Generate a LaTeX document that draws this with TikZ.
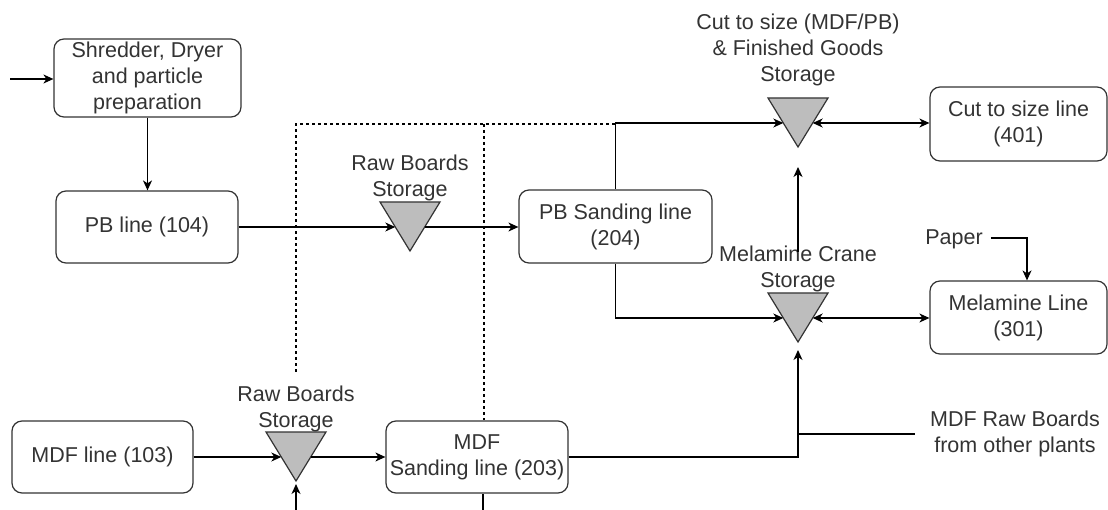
\documentclass[tikz,border=0pt]{standalone}
\usepackage{fontspec}
\setmainfont{Liberation Sans}
\usetikzlibrary{arrows.meta,calc}
\definecolor{ink}{HTML}{333333}
\definecolor{stock}{HTML}{BDBDBD}

\tikzset{
  txt/.style={font=\fontsize{21.5}{26}\selectfont, text=ink, align=center, inner sep=0pt},
  proc/.style={txt, draw=ink, line width=1.2pt, rounded corners=10pt},
  flow/.style={line width=1.2pt, -{Stealth[length=10pt,width=9pt,inset=3pt]}},
  both/.style={line width=1.2pt, {Stealth[length=10pt,width=9pt,inset=3pt]}-{Stealth[length=10pt,width=9pt,inset=3pt]}},
  plain/.style={line width=1.2pt},
  link/.style={line width=1.1pt, dash pattern=on 3pt off 3pt},
  % storage: inverted triangle with side points at its centre line
  store/.pic={
    \draw[draw=ink, fill=stock, line width=1.2pt] (-30,-25) -- (30,-25) -- (0,24) -- cycle;
    \coordinate (-w) at (-14.7,0);
    \coordinate (-e) at (14.7,0);
    \coordinate (-n) at (0,-25);
    \coordinate (-s) at (0,24);
  }
}

\begin{document}
\begin{tikzpicture}[x=1pt,y=-1pt]
\useasboundingbox (0,0) rectangle (1108,510);

% process boxes
\node[proc, minimum width=187pt, minimum height=78pt] (shred) at (147.5,78)
  {Shredder, Dryer\\and particle\\preparation};
\node[proc, minimum width=182pt, minimum height=72pt] (pb) at (147,227) {PB line (104)};
\node[proc, minimum width=193pt, minimum height=73pt] (pbsand) at (615.5,226.5)
  {PB Sanding line\\(204)};
\node[proc, minimum width=181pt, minimum height=72pt] (mdf) at (102.5,457) {MDF line (103)};
\node[proc, minimum width=182pt, minimum height=72pt] (mdfsand) at (477,457)
  {MDF\\Sanding line (203)};
\node[proc, minimum width=177pt, minimum height=74pt] (csl) at (1018.5,124)
  {Cut to size line\\(401)};
\node[proc, minimum width=177pt, minimum height=73pt] (mel) at (1018.5,317.5)
  {Melamine Line\\(301)};

% storages
\pic (cut) at (798,123) {store};
\pic (crane) at (798,318) {store};
\pic (rawpb) at (410,227) {store};
\pic (rawmdf) at (296,457) {store};

% storage labels and free texts
\node[txt] (cutlab) at (798,50) {Cut to size (MDF/PB)\\\& Finished Goods\\Storage};
\node[txt] (cranelab) at (798,269) {Melamine Crane\\Storage};
\node[txt] (rawpblab) at (410,178) {Raw Boards\\Storage};
\node[txt] (rawmdflab) at (296,409) {Raw Boards\\Storage};
\node[txt] (paper) at (954,239) {Paper};
\node[txt] (other) at (1015,434) {MDF Raw Boards\\from other plants};

% free ends
\coordinate (feed) at (10,79);
\coordinate (melrise) at (798,252);
\coordinate (mdfturn) at (798,457);
\coordinate (dashfoot) at (296,372);
\coordinate (dashtop) at (296,124);
\coordinate (dashsplit) at (484,124);
\coordinate (dashend) at (615,124);
\coordinate (below1) at (296,510);
\coordinate (below2) at (483,510);
\coordinate (paperturn) at (1027,238);

% particle board flow
\draw[flow] (feed) -- (shred.west |- feed);
\draw[flow] (shred.south) -- (shred.south |- pb.north);
\draw[flow] (pb.east |- rawpb-w) -- (rawpb-w);
\draw[flow] (rawpb-e) -- (rawpb-e -| pbsand.west);
\draw[flow] (pbsand.north) |- (cut-w);
\draw[flow] (pbsand.south) |- (crane-w);

% finishing
\draw[both] (cut-e) -- (cut-e -| csl.west);
\draw[both] (crane-e) -- (crane-e -| mel.west);
\draw[flow] (melrise) -- ($(cut-s)+(0,20)$);
\draw[flow] ([xshift=8pt]paper.east |- paperturn) -- (paperturn) -- (paperturn |- mel.north);

% MDF flow
\draw[flow] (mdf.east |- rawmdf-w) -- (rawmdf-w);
\draw[flow] (rawmdf-e) -- (rawmdf-e -| mdfsand.west);
\draw[flow] (below1) -- ($(rawmdf-s)+(0,3)$);
\draw[plain] (below2) -- (below2 |- mdfsand.south);
\draw[flow] (mdfsand.east |- mdfturn) -- (mdfturn) -- ($(crane-s)+(0,8)$);
\draw[plain] ([xshift=-15pt]other.west) -- (other.west -| mdfturn);

% dashed links
\draw[link] (dashfoot) -- (dashtop) -- (dashend);
\draw[link] (dashsplit) -- (dashsplit |- mdfsand.north);
\end{tikzpicture}
\end{document}
